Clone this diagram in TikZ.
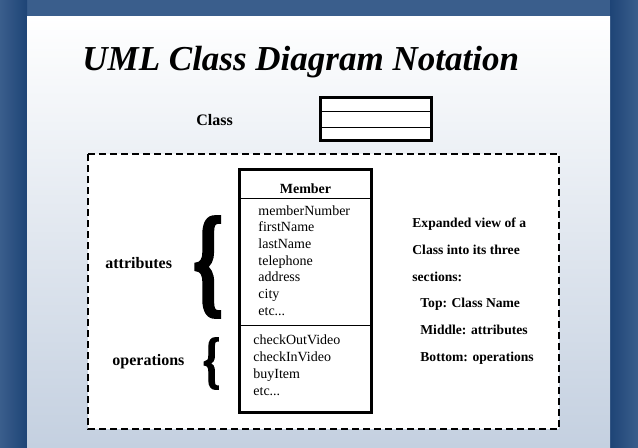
\documentclass[tikz,border=0pt]{standalone}
\usepackage{fontspec}
\setmainfont{Liberation Serif}
\newfontfamily\bracefont[FakeBold=3]{Liberation Serif Bold}
\usepackage{graphicx}
\definecolor{frameblue}{RGB}{58,94,140}
\definecolor{framedark}{RGB}{30,68,118}
\definecolor{paleblue}{RGB}{196,208,224}
\tikzset{
 boxline/.style={line width=1.5pt},
 thinline/.style={line width=0.5pt},
 lbl/.style={font=\bfseries\fontsize{8}{9.6}\selectfont,anchor=base west,inner sep=0pt},
 item/.style={font=\fontsize{7}{8.4}\selectfont,anchor=base west,inner sep=0pt},
 note/.style={font=\bfseries\fontsize{6.8}{8}\selectfont,anchor=base west,inner sep=0pt},
 brace/.style={font=\bracefont,inner sep=0pt},
}
\begin{document}
\begin{tikzpicture}[x=0.5pt,y=-0.5pt]
 \useasboundingbox (0,0) rectangle (638,447);
 \fill[frameblue] (0,0) rectangle (638,447); %枠
 \shade[left color=frameblue,right color=framedark] (0,0) rectangle (27,447); %左の枠
 \shade[left color=framedark,right color=frameblue] (610,0) rectangle (638,447); %右の枠
 \shade[top color=white,bottom color=paleblue] (27,16) rectangle (610,447); %背景
 \node[font=\bfseries\itshape\fontsize{17.5}{21}\selectfont,anchor=base west,inner sep=0pt] (title) at (82,70) {UML Class Diagram Notation}; %題
 \node[lbl] (classlbl) at (196,125) {Class};
 \draw[boxline,fill=white] (320.5,97.5) rectangle (431.5,140.5); %小さいクラス
 \draw[thinline] (320.5,111)--(431.5,111);
 \draw[thinline] (320.5,127)--(431.5,127);
 \draw[line width=1pt,dash pattern=on 3.5pt off 2pt,fill=white] (88,154) rectangle (559,429); %点線の枠
 \draw[boxline] (239.5,169.5) rectangle (371.5,412.5); %Member
 \draw[thinline] (239.5,198)--(371.5,198);
 \draw[thinline] (239.5,325)--(371.5,325);
 \node[font=\bfseries\fontsize{7}{8.4}\selectfont,inner sep=0pt] (member) at (305.5,189) {Member};
 \node[item] (attr1) at (258,215) {memberNumber}; %属性
 \node[item] (attr2) at (258,231.7) {firstName};
 \node[item] (attr3) at (258,248.4) {lastName};
 \node[item] (attr4) at (258,265) {telephone};
 \node[item] (attr5) at (258,281.8) {address};
 \node[item] (attr6) at (258,298.5) {city};
 \node[item] (attr7) at (258,315.2) {etc...};
 \node[item] (op1) at (253,344.5) {checkOutVideo}; %操作
 \node[item] (op2) at (253,361.5) {checkInVideo};
 \node[item] (op3) at (253,378.5) {buyItem};
 \node[item] (op4) at (253,395.5) {etc...};
 \node[lbl] (attrlbl) at (105,268) {attributes};
 \node[lbl] (oplbl) at (112,365) {operations};
 \node[brace] (attrbrace) at (208,267) {\resizebox*{15pt}{50pt}{\{}}; %大きい括弧
 \node[brace] (opbrace) at (211.5,363.5) {\resizebox*{8.5pt}{25.5pt}{\{}}; %小さい括弧
 \node[note] (note1) at (412,227.5) {Expanded view of a}; %説明
 \node[note] (note2) at (412,254.3) {Class into its three};
 \node[note] (note3) at (412,281) {sections:};
 \node[note] (note4) at (420,307.8) {Top: Class Name};
 \node[note] (note5) at (420,334.6) {Middle: attributes};
 \node[note] (note6) at (420,361.4) {Bottom: operations};
\end{tikzpicture}
\end{document}
